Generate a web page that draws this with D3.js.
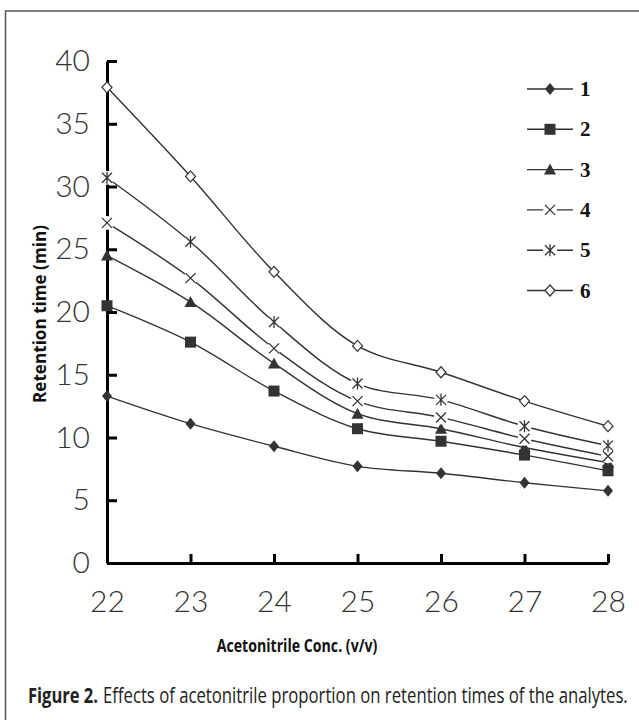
<!DOCTYPE html>
<html>
<head>
<meta charset="utf-8">
<script src="https://cdn.jsdelivr.net/npm/d3@7"></script>
<style>
  body { margin: 0; background: #fff; }
  svg { display: block; }
  .tick text { font-family: "Lato", "DejaVu Sans", sans-serif; font-weight: 300; font-size: 30px; fill: #333; }
</style>
</head>
<body>
<div id="chart"></div>
<script>
// Retention time vs acetonitrile concentration, six analytes
const concs = [22, 23, 24, 25, 26, 27, 28];
const yTicks = [0, 5, 10, 15, 20, 25, 30, 35, 40];
const seriesNames = ['1', '2', '3', '4', '5', '6'];
const markerTypes = ['diamond', 'square', 'triangle', 'cross', 'asterisk', 'openDiamond'];

const s1 = [13.3, 11.1, 9.3, 7.7, 7.15, 6.4, 5.75];
const s2 = [20.5, 17.6, 13.7, 10.7, 9.7, 8.6, 7.35];
const s3 = [24.5, 20.8, 15.9, 11.9, 10.7, 9.2, 8.0];
const s4 = [27.1, 22.7, 17.1, 12.9, 11.6, 9.9, 8.5];
const s5 = [30.7, 25.6, 19.2, 14.3, 13.0, 10.9, 9.35];
const s6 = [37.9, 30.8, 23.2, 17.3, 15.2, 12.9, 10.9];
const allSeries = [s1, s2, s3, s4, s5, s6];

const W = 639, H = 720;
const ink = '#333';
const sansFont = '"Open Sans", "Liberation Sans", sans-serif';

const svg = d3.select('#chart').append('svg').attr('width', W).attr('height', H);

// frame round the figure
svg.append('rect')
  .attr('x', 5.5).attr('y', 11).attr('width', W + 10).attr('height', H + 10)
  .attr('fill', 'none').attr('stroke', '#555').attr('stroke-width', 1.5);

const x = d3.scaleLinear().domain([22, 28]).range([107, 608]);
const y = d3.scaleLinear().domain([0, 40]).range([563, 61]);

// axes
const yAxis = svg.append('g')
  .attr('transform', `translate(${x(22)},0)`)
  .call(d3.axisLeft(y).tickValues(yTicks).tickSizeInner(-10).tickSizeOuter(0).tickPadding(17));
const xAxis = svg.append('g')
  .attr('transform', `translate(0,${y(0)})`)
  .call(d3.axisBottom(x).tickValues(concs).tickSizeInner(-9).tickSizeOuter(0).tickPadding(28).tickFormat(d3.format('d')));
[yAxis, xAxis].forEach(a => {
  a.select('.domain').attr('stroke', '#000').attr('stroke-width', 3);
  a.selectAll('.tick line').attr('stroke', '#000').attr('stroke-width', 3);
});

// marker shapes
function drawMarker(g, type, cx, cy) {
  const m = g.append('g').attr('transform', `translate(${cx},${cy})`);
  const r = 5;
  if (type === 'diamond') {
    m.append('path').attr('d', `M0,${-r - 1}L${r},0L0,${r + 1}L${-r},0Z`).attr('fill', ink);
  } else if (type === 'square') {
    m.append('rect').attr('x', -5.5).attr('y', -5.5).attr('width', 11).attr('height', 11).attr('fill', ink);
  } else if (type === 'triangle') {
    m.append('path').attr('d', `M0,-6L6,5L-6,5Z`).attr('fill', ink);
  } else if (type === 'cross') {
    m.append('circle').attr('r', 7).attr('fill', '#fff');
    m.append('path').attr('d', 'M-5,-5L5,5M-5,5L5,-5').attr('stroke', ink).attr('stroke-width', 1.3);
  } else if (type === 'asterisk') {
    m.append('circle').attr('r', 7).attr('fill', '#fff');
    m.append('path').attr('d', 'M-5,-5L5,5M-5,5L5,-5M0,-6L0,6').attr('stroke', ink).attr('stroke-width', 1.3);
  } else if (type === 'openDiamond') {
    m.append('path').attr('d', `M0,-5.5L5,0L0,5.5L-5,0Z`).attr('fill', '#fff').attr('stroke', ink).attr('stroke-width', 1.2);
  }
}

const line = d3.line()
  .x((d, i) => x(concs[i]))
  .y(d => y(d))
  .curve(d3.curveCatmullRom.alpha(0.5));

const plot = svg.append('g');
allSeries.forEach((vals, si) => {
  const g = plot.append('g');
  g.append('path')
    .attr('d', line(vals))
    .attr('fill', 'none')
    .attr('stroke', ink)
    .attr('stroke-width', 1.4);
  vals.forEach((v, i) => drawMarker(g, markerTypes[si], x(concs[i]), y(v)));
});

// legend
const legend = svg.append('g');
seriesNames.forEach((name, i) => {
  const ly = 89 + i * 40.3;
  const gg = legend.append('g');
  gg.append('line').attr('x1', 527).attr('x2', 573).attr('y1', ly).attr('y2', ly)
    .attr('stroke', ink).attr('stroke-width', 1.4);
  drawMarker(gg, markerTypes[i], 550, ly);
  gg.append('text').attr('x', 580).attr('y', ly + 7)
    .attr('font-family', '"Liberation Serif", "DejaVu Serif", serif')
    .attr('font-weight', 'bold').attr('font-size', 21).attr('fill', '#111')
    .text(name);
});

// condensed text: squeeze horizontally to a target width
function narrowText(str, opts) {
  const g = svg.append('g');
  const t = g.append('text')
    .attr('font-family', sansFont)
    .attr('font-weight', opts.bold ? 'bold' : 'normal')
    .attr('font-size', opts.size).attr('fill', opts.fill || '#111')
    .attr('text-anchor', opts.anchor || 'start')
    .text(str);
  const k = opts.width / t.node().getComputedTextLength();
  g.attr('transform', `translate(${opts.x},${opts.y}) rotate(${opts.rotate || 0}) scale(${k},1)`);
  return g;
}

narrowText('Retention time (min)', { x: 46, y: 314, rotate: -90, size: 17, bold: true, width: 178, anchor: 'middle' });
narrowText('Acetonitrile Conc. (v/v)', { x: 297, y: 652, size: 17, bold: true, width: 161, anchor: 'middle' });

// caption
narrowText('Figure 2.', { x: 28, y: 703, size: 21, bold: true, width: 70, fill: '#222' });
narrowText('Effects of acetonitrile proportion on retention times of the analytes.', { x: 103, y: 703, size: 21, width: 525, fill: '#222' });
</script>
</body>
</html>
